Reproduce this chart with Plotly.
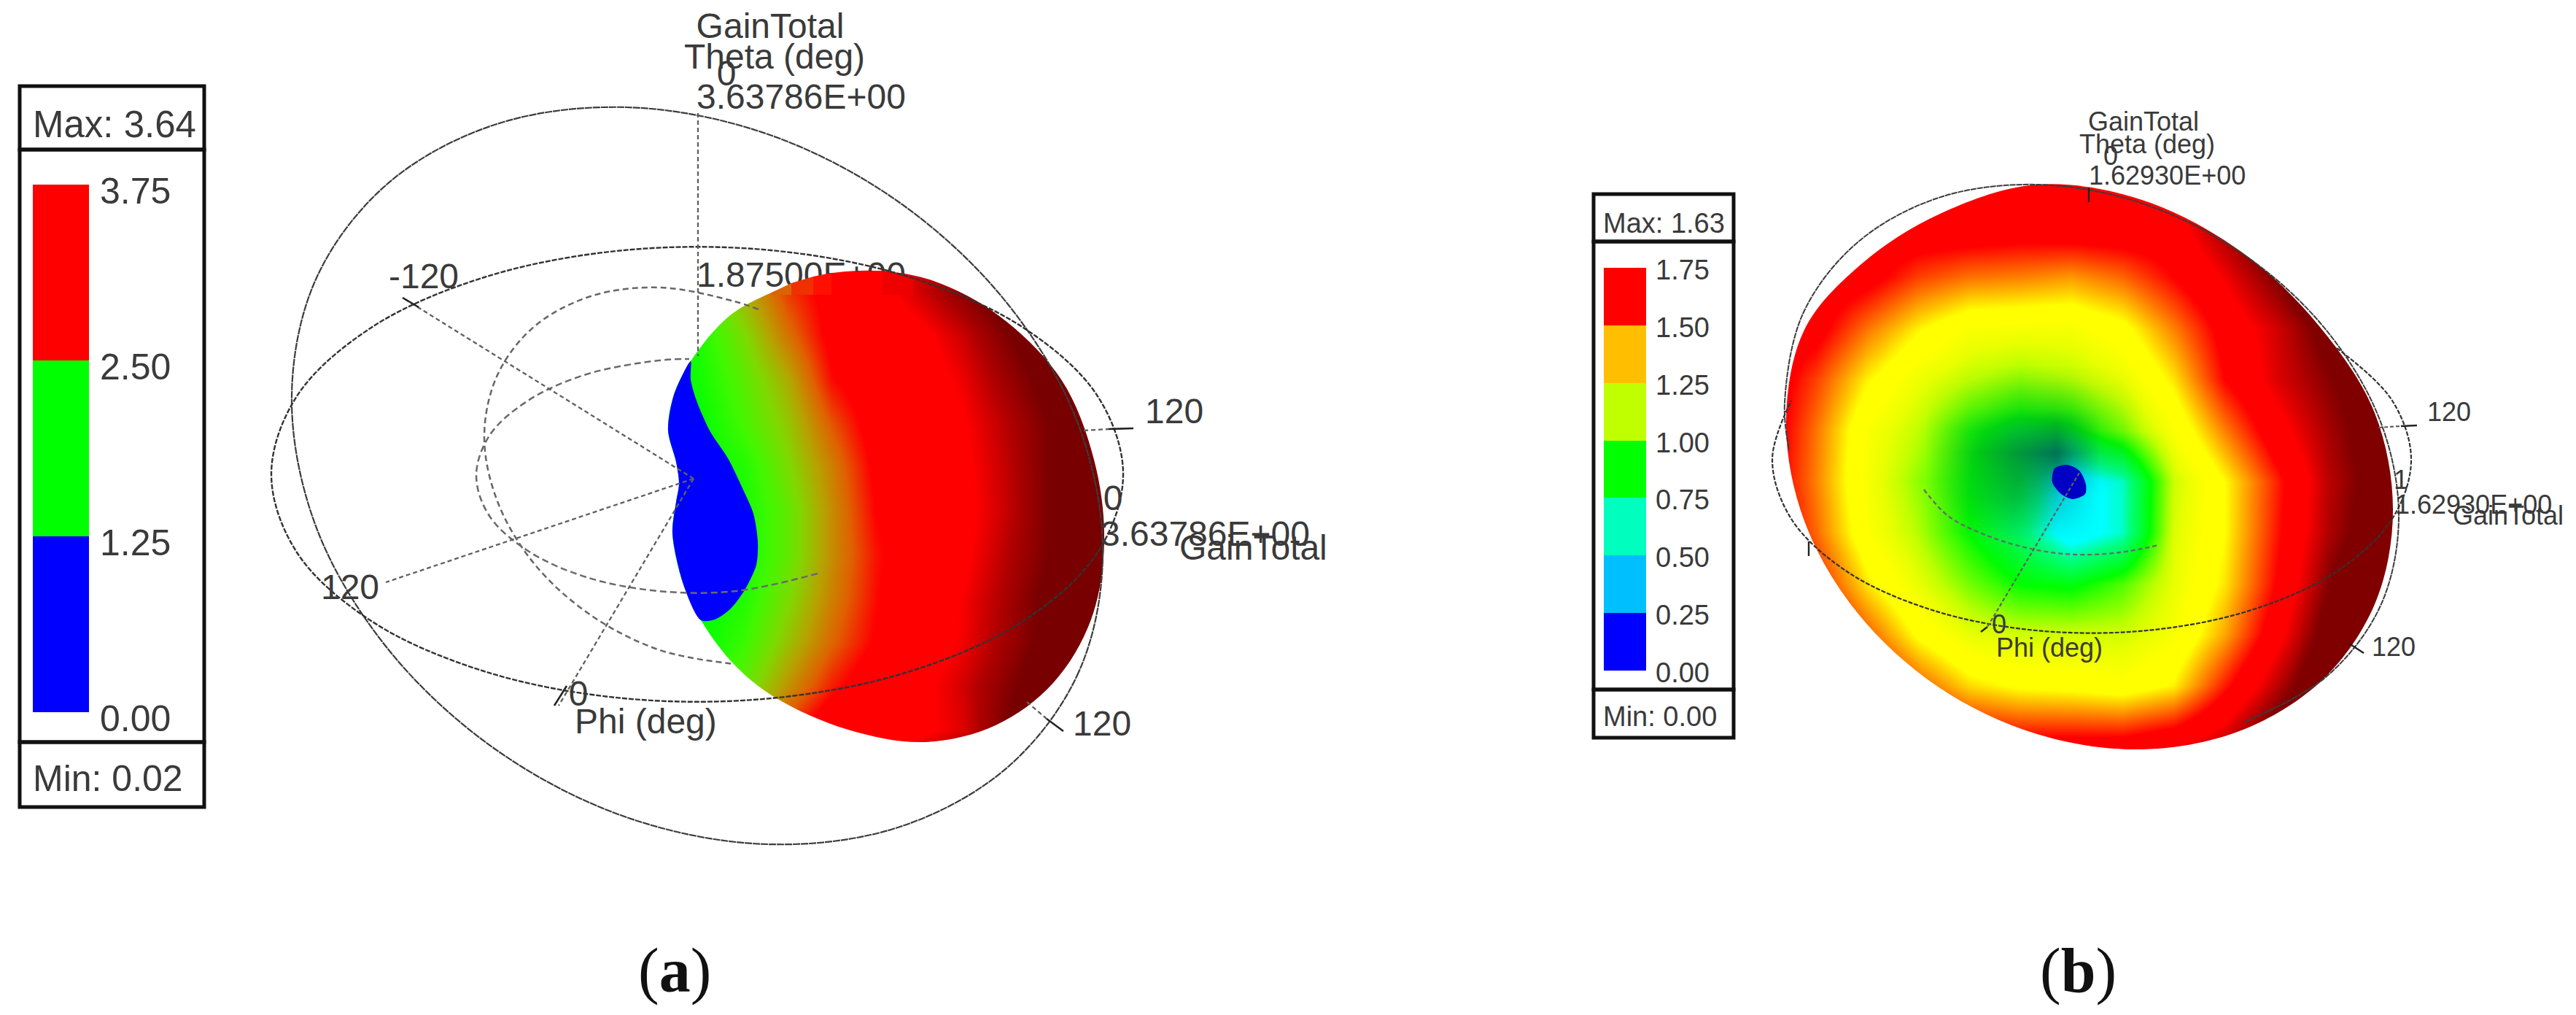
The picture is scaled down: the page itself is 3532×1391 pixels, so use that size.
import plotly.graph_objects as go

W, H = 3532, 1391

# ---------- legends ----------
legend_a_ticks = [0.00, 1.25, 2.50, 3.75]
legend_a_steps = [1.25, 1.25, 1.25]
legend_a_colors = ["#0000ff", "#00ff00", "#ff0000"]
legend_b_ticks = [0.00, 0.25, 0.50, 0.75, 1.00, 1.25, 1.50, 1.75]
legend_b_steps = [0.25] * 7
legend_b_colors = ["#0000ff", "#00bfff", "#00ffbf", "#00ff00", "#bfff00", "#ffbf00", "#ff0000"]

# ---------- lobe (a): gain table (values past 100 saturate) ----------
a_cols = [900, 960, 1020, 1080, 1140, 1200, 1260, 1320, 1380, 1440, 1500, 1560]
a_rows = [400, 460, 520, 580, 640, 700, 760, 820, 880, 940, 1000, 1060]
a_gain = [
    [0, 8, 27, 44, 54, 66, 80, 95, 110, 125, 140, 155],
    [0, 5, 19, 37, 53, 62, 68, 81, 98, 113, 128, 143],
    [0, 3, 14, 28, 49, 58, 65, 75, 91, 106, 121, 136],
    [0, 0, 11, 23, 41, 55, 63, 71, 85, 100, 115, 130],
    [0, 0, 5, 19, 35, 52, 60, 69, 83, 100, 115, 130],
    [0, 0, 3, 15, 33, 50, 59, 68, 82, 100, 115, 130],
    [0, 0, 3, 15, 33, 48, 58, 69, 85, 100, 115, 130],
    [0, 0, 5, 19, 35, 49, 61, 73, 88, 105, 120, 135],
    [0, 0, 9, 24, 39, 51, 64, 74, 90, 105, 120, 135],
    [0, 5, 15, 32, 47, 58, 68, 80, 96, 112, 127, 142],
    [0, 10, 28, 45, 60, 65, 68, 78, 100, 118, 133, 148],
    [0, 20, 50, 70, 80, 85, 90, 105, 120, 135, 150, 165],
]
a_scale = [[0, "#00ff00"], [0.10, "#40f800"], [0.20, "#80d800"], [0.30, "#b8a000"], [0.40, "#e06000"],
           [0.50, "#ff0000"], [0.72, "#ff0000"], [0.86, "#b00000"], [1, "#780000"]]
a_outline_x = [1200, 1280, 1370, 1455, 1500, 1514, 1496, 1444, 1365, 1267, 1163, 1063, 1006,
               961, 937, 922, 927, 931, 927, 916, 924, 947, 1000, 1060, 1127]
a_outline_y = [371, 385, 433, 520, 630, 743, 849, 936, 994, 1017, 1000, 956, 910,
               850, 801, 731, 688, 663, 633, 590, 541, 495, 433, 400, 377]
a_null_x = [947, 955, 973, 998, 1018, 1033, 1039, 1037, 1022, 1002, 980, 961, 937, 922, 927, 931, 927, 916, 924, 947]
a_null_y = [520, 549, 590, 628, 669, 704, 742, 774, 807, 834, 849, 850, 801, 731, 688, 663, 633, 590, 541, 495]

# ---------- lobe (b): gain table (values past 100 saturate) ----------
b_cols = [2420, 2490, 2560, 2630, 2700, 2770, 2840, 2910, 2980, 3050, 3120, 3190, 3260, 3330]
b_rows = [240, 310, 380, 450, 520, 590, 660, 730, 800, 870, 940, 1010, 1080]
b_gain = [
    [86, 86, 86, 86, 86, 86, 86, 86, 88, 95, 109, 121, 135, 146],
    [86, 86, 86, 86, 86, 85, 86, 86, 85, 97, 109, 120, 129, 139],
    [86, 86, 83, 75, 71, 70, 68, 72, 80, 89, 100, 111, 122, 132],
    [86, 83, 71, 61, 54, 53, 53, 58, 70, 83, 92, 103, 112, 125],
    [86, 75, 61, 51, 45, 41, 44, 50, 62, 80, 91, 99, 107, 119],
    [86, 71, 54, 45, 32, 26, 28, 39, 54, 70, 85, 96, 105, 116],
    [85, 70, 53, 41, 30, 25, 0, 10, 46, 60, 77, 94, 104, 113],
    [87, 72, 55, 44, 30, 18, 0, 10, 48, 60, 78, 95, 106, 112],
    [92, 78, 62, 50, 39, 30, 28, 36, 50, 62, 80, 99, 115, 125],
    [98, 86, 73, 59, 50, 47, 47, 47, 53, 67, 85, 104, 120, 130],
    [105, 95, 84, 73, 63, 59, 58, 56, 61, 78, 94, 110, 124, 134],
    [112, 104, 95, 87, 82, 80, 80, 80, 84, 92, 106, 118, 128, 138],
    [120, 112, 105, 105, 105, 108, 110, 110, 110, 108, 114, 125, 135, 145],
]
b_scale = [[0, "#00ffff"], [0.06, "#00ffff"], [0.15, "#00ff80"], [0.30, "#00ff00"], [0.45, "#c0ff00"],
           [0.50, "#eaff00"], [0.55, "#ffff00"], [0.60, "#ffff00"], [0.70, "#ff8000"], [0.80, "#ff0000"],
           [0.88, "#ff0000"], [1, "#800000"]]
b_shade_cols = [2640, 2700, 2760, 2820, 2880, 2940]
b_shade_rows = [500, 560, 620, 680, 740, 800]
b_shade = [
    [0.00, 0.00, 0.00, 0.00, 0.00, 0.00],
    [0.00, 0.05, 0.12, 0.15, 0.05, 0.00],
    [0.00, 0.20, 0.45, 0.65, 0.10, 0.00],
    [0.00, 0.15, 0.30, 0.25, 0.00, 0.00],
    [0.00, 0.02, 0.05, 0.00, 0.00, 0.00],
    [0.00, 0.00, 0.00, 0.00, 0.00, 0.00],
]
b_outline_x = [2793, 2937, 3073, 3180, 3256, 3281, 3256, 3184, 3073, 2937, 2793, 2657, 2546, 2474, 2449, 2474, 2552, 2660]
b_outline_y = [253, 274, 345, 447, 566, 700, 828, 932, 1001, 1027, 1006, 941, 839, 714, 580, 452, 362, 293]
b_null_x = [2817, 2834, 2851, 2860, 2859, 2842, 2826, 2814]
b_null_y = [642, 637, 645, 664, 677, 684, 677, 661]

# ---------- guide rings, (a) ----------
a_ring1_x = [1512, 1479, 1382, 1234, 1053, 859, 678, 530, 433, 400, 433, 530, 678, 859, 1053, 1234, 1382, 1479, 1512]
a_ring1_y = [759, 921, 1051, 1133, 1157, 1120, 1026, 887, 721, 545, 383, 253, 171, 147, 184, 278, 417, 583, 759]
a_ring2_x = [1540, 1505, 1403, 1248, 1057, 855, 664, 509, 407, 372, 407, 509, 664, 855, 1057, 1248, 1403, 1505, 1540]
a_ring2_y = [650, 757, 851, 920, 957, 957, 920, 851, 757, 650, 543, 449, 380, 343, 343, 380, 449, 543, 650]
a_inner1_x = [1040, 1007, 905, 810, 732, 682, 664, 682, 732, 810, 905, 1007]
a_inner1_y = [424, 413, 394, 406, 448, 514, 598, 687, 772, 843, 891, 910]
a_inner2_x = [1121, 1009, 903, 804, 724, 671, 653, 671, 724, 804, 903, 945]
a_inner2_y = [786, 810, 810, 791, 755, 707, 652, 597, 549, 513, 494, 492]
a_spokes_x = [951, 552, None, 951, 529, None, 951, 766, None, 957, 957, None, 1486, 1520, None, 1408, 1435]
a_spokes_y = [656, 408, None, 656, 798, None, 656, 967, None, 155, 488, None, 590, 588, None, 962, 985]
a_ticks_x = [1520, 1554, None, 1435, 1458, None, 552, 574, None, 760, 777]
a_ticks_y = [588, 587, None, 985, 1002, None, 408, 421, None, 967, 940]

# ---------- guide rings, (b) ----------
b_ring1_x = [3078, 3190, 3264, 3289, 3264, 3190, 3078, 2941, 2795, 2658, 2546, 2472, 2447, 2453]
b_ring1_y = [989, 927, 830, 708, 578, 453, 350, 280, 253, 271, 333, 430, 552, 617]
b_ring2_x = [3204, 3280, 3306, 3280, 3204, 3087, 2944, 2792, 2649, 2532, 2456, 2430, 2456]
b_ring2_y = [477, 549, 630, 711, 783, 836, 864, 864, 836, 783, 711, 630, 549]
b_arc_x = [2638, 2671, 2722, 2784, 2845, 2907, 2960]
b_arc_y = [671, 707, 733, 752, 760, 757, 747]
b_spokes_x = [2851, 2725, None, 3261, 3292]
b_spokes_y = [648, 859, None, 586, 584]
b_ticks_x = [2725, 2716, None, 3292, 3314, None, 3221, 3241, None, 2864, 2864, None, 2480, 2480]
b_ticks_y = [859, 866, None, 584, 583, None, 882, 895, None, 257, 277, None, 742, 762]

# ---------- texts ----------
a_left_text = ["3.63786E+00", "3.63786E+00", "GainTotal", "120", "120", "Phi (deg)"]
a_left_x = [955, 1509, 1617, 1570, 1471, 788]
a_left_y = [137, 736, 755, 568, 996, 993]
a_mid_text = ["GainTotal", "Theta (deg)", "0", "-120", "120", "0", "0"]
a_mid_x = [1056, 1062, 996, 581, 480, 793, 1526]
a_mid_y = [40, 82, 105, 383, 809, 955, 687]
a_hidden_text = ["1.87500E+00"]
a_hidden_x = [955]
a_hidden_y = [381]
# the lobe passes in front of that label: flat strips of its top edge
a_cover_x = [[1058, 1085, 1085, 1058], [1085, 1115, 1115, 1085], [1115, 1140, 1140, 1115],
             [1140, 1210, 1210, 1140], [1210, 1252, 1252, 1210]]
a_cover_y = [[401, 388, 404, 404], [388, 379, 404, 404], [379, 374, 404, 404],
             [374, 371, 404, 404], [371, 379, 404, 404]]
a_cover_c = ["#dc6400", "#f03000", "#ff1000", "#ff0000", "#ee0000"]

b_left_text = ["1.62930E+00", "1.62930E+00", "GainTotal", "120", "120", "Phi (deg)"]
b_left_x = [2864, 3284, 3363, 3328, 3252, 2737]
b_left_y = [244, 695, 710, 568, 890, 891]
b_mid_text = ["GainTotal", "Theta (deg)", "0", "1", "0"]
b_mid_x = [2939, 2944, 2894, 3292, 2741]
b_mid_y = [170, 201, 217, 661, 859]

FONT = "Liberation Sans"
INK = "#3a3a3a"
SANS_A = dict(family=FONT, size=48, color=INK)
SANS_B = dict(family=FONT, size=36, color=INK)

fig = go.Figure()


def polygon_with_hole(xs, ys, x0, x1, y0, y1):
    """White surround of a lobe: rectangle plus the outline, wound the other way."""
    rx, ry = list(xs)[::-1], list(ys)[::-1]
    return ([x0, x1, x1, x0, x0, None] + rx + [rx[0]], [y0, y0, y1, y1, y0, None] + ry + [ry[0]])


def line(xs, ys, color, width, dash="solid", shape="spline"):
    fig.add_trace(go.Scatter(x=xs, y=ys, mode="lines", hoverinfo="skip", showlegend=False,
                             line=dict(color=color, width=width, dash=dash, shape=shape, smoothing=1.0)))


def text(t, xs, ys, pos, font):
    fig.add_trace(go.Scatter(x=xs, y=ys, text=t, mode="text", textposition=pos, textfont=font,
                             hoverinfo="skip", showlegend=False))


def blob(xs, ys, color, shape="spline"):
    fig.add_trace(go.Scatter(x=list(xs) + [xs[0]], y=list(ys) + [ys[0]], mode="lines", fill="toself",
                             fillcolor=color, hoverinfo="skip", showlegend=False,
                             line=dict(width=0, color=color, shape=shape, smoothing=0.8)))


fig.add_trace(go.Heatmap(x=a_cols, y=a_rows, z=a_gain, zmin=0, zmax=100, zsmooth="best",
                         colorscale=a_scale, showscale=False, hoverinfo="skip"))
fig.add_trace(go.Heatmap(x=b_cols, y=b_rows, z=b_gain, zmin=0, zmax=100, zsmooth="best",
                         colorscale=b_scale, showscale=False, hoverinfo="skip"))
fig.add_trace(go.Heatmap(x=b_shade_cols, y=b_shade_rows, z=b_shade, zmin=0, zmax=1, zsmooth="best",
                         colorscale=[[0, "rgba(0,40,80,0)"], [1, "rgba(0,40,80,1)"]],
                         showscale=False, hoverinfo="skip"))

for xs, ys, box in [(a_outline_x, a_outline_y, (840, 1620, 340, 1120)),
                    (b_outline_x, b_outline_y, (2360, 3390, 190, 1140))]:
    mx, my = polygon_with_hole(xs, ys, *box)
    fig.add_trace(go.Scatter(x=mx, y=my, mode="lines", fill="toself", fillcolor="white", hoverinfo="skip",
                             showlegend=False, line=dict(width=0, color="white", shape="spline", smoothing=1.0)))

# behind the lobe
line(a_inner1_x, a_inner1_y, "#666666", 2.5, "8px,5px")
text(a_hidden_text, a_hidden_x, a_hidden_y, "middle right", SANS_A)
for cx, cy, cc in zip(a_cover_x, a_cover_y, a_cover_c):
    blob(cx, cy, cc, "linear")

blob(a_null_x, a_null_y, "#0000ff")
blob(b_null_x, b_null_y, "#0000c4")

# in front of the lobe
line(a_ring1_x, a_ring1_y, "#3c3c3c", 2.2, "10px,1px")
line(a_ring2_x, a_ring2_y, "#333333", 2.4, "7px,2px")
line(a_inner2_x, a_inner2_y, "#6a6a6a", 2.5, "9px,5px")
line(a_spokes_x, a_spokes_y, "#606060", 2.3, "6px,4px", "linear")
line(a_ticks_x, a_ticks_y, "#222222", 2.6, "solid", "linear")

line(b_ring1_x, b_ring1_y, "#3c3c3c", 2, "8px,1px")
line(b_ring2_x, b_ring2_y, "#333333", 2.2, "6px,2px")
line(b_arc_x, b_arc_y, "#6a6a6a", 2.3, "6px,4px")
line(b_spokes_x, b_spokes_y, "#606060", 2.2, "5px,3px", "linear")
line(b_ticks_x, b_ticks_y, "#222222", 2.4, "solid", "linear")

text(a_left_text, a_left_x, a_left_y, "middle right", SANS_A)
text(a_mid_text, a_mid_x, a_mid_y, "middle center", SANS_A)
text(b_left_text, b_left_x, b_left_y, "middle right", SANS_B)
text(b_mid_text, b_mid_x, b_mid_y, "middle center", SANS_B)

# colour bars on their own small axes
for steps, colors, ax in [(legend_a_steps, legend_a_colors, "2"), (legend_b_steps, legend_b_colors, "3")]:
    fig.add_trace(go.Bar(x=[0] * len(steps), y=steps, marker=dict(color=colors, line=dict(width=0)), width=1,
                         xaxis="x" + ax, yaxis="y" + ax, hoverinfo="skip", showlegend=False))

hidden = dict(visible=False, fixedrange=True)
fig.update_layout(
    width=W, height=H, autosize=False, margin=dict(l=0, r=0, t=0, b=0, pad=0),
    paper_bgcolor="white", plot_bgcolor="white", barmode="stack", bargap=0,
    xaxis=dict(range=[0, W], domain=[0, 1], **hidden),
    yaxis=dict(range=[H, 0], domain=[0, 1], **hidden),
    xaxis2=dict(range=[-0.5, 0.5], domain=[45 / W, 122 / W], anchor="y2", **hidden),
    yaxis2=dict(range=[0, 3.75], domain=[1 - 976 / H, 1 - 253 / H], anchor="x2", **hidden),
    xaxis3=dict(range=[-0.5, 0.5], domain=[2199 / W, 2257 / W], anchor="y3", **hidden),
    yaxis3=dict(range=[0, 1.75], domain=[1 - 919 / H, 1 - 367 / H], anchor="x3", **hidden),
)

# legend frames
def frame(x0, x1, ys, lw):
    for y0, y1 in zip(ys[:-1], ys[1:]):
        fig.add_shape(type="rect", xref="x", yref="y", x0=x0, x1=x1, y0=y0, y1=y1, layer="above",
                      line=dict(color="#111111", width=lw), fillcolor="rgba(0,0,0,0)")


frame(27, 280, [118, 205, 1017, 1106], 5)
frame(2185, 2377, [266, 331, 945, 1011], 5)

ann = []
for v in legend_a_ticks:
    ann.append(dict(x=0.5, y=v, xref="x2", yref="y2", text=f"{v:.2f}", showarrow=False, xanchor="left",
                    xshift=13, yshift=-9, font=dict(family=FONT, size=50, color=INK)))
for v in legend_b_ticks:
    ann.append(dict(x=0.5, y=v, xref="x3", yref="y3", text=f"{v:.2f}", showarrow=False, xanchor="left",
                    xshift=11, yshift=-3, font=dict(family=FONT, size=38, color=INK)))
for t, x, y, s in [("Max: 3.64", 43, 170, 51), ("Min: 0.02", 43, 1067, 50),
                   ("Max: 1.63", 2196, 306, 38), ("Min: 0.00", 2196, 982, 38)]:
    ann.append(dict(x=x, y=y, xref="x", yref="y", text=t, showarrow=False, xanchor="left",
                    font=dict(family=FONT, size=s, color=INK)))
for t, x in [("(<b>a</b>)", 925), ("(<b>b</b>)", 2849)]:
    ann.append(dict(x=x, y=1330, xref="x", yref="y", text=t, showarrow=False,
                    font=dict(family="Liberation Serif", size=86, color="#111111")))
fig.update_layout(annotations=ann)

fig.write_html("out.html", config=dict(displayModeBar=False),
               post_script="document.body.style.margin='0';document.documentElement.style.overflow='hidden';")
